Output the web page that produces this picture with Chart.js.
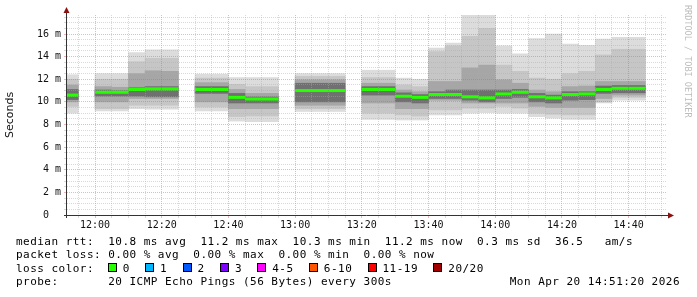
<!DOCTYPE html>
<html>
<head>
<meta charset="utf-8">
<script src="https://cdn.jsdelivr.net/npm/chart.js@4.4.0/dist/chart.umd.min.js"></script>
<style>
  body { margin: 0; background: #fff; }
  #wrap { position: relative; width: 697px; height: 297px; background: #fff; overflow: hidden; }
  #chart { position: absolute; left: 0; top: 0; }
  .line { position: absolute; left: 16px; font-family: 'DejaVu Sans Mono', monospace; font-size: 11px;
          letter-spacing: 0.47px; line-height: 13.33px; white-space: pre; color: #000; }
  .sq { display: inline-block; width: 7px; height: 7px; border: 1px solid #000; margin-right: 6px; vertical-align: baseline; }
  #credit { position: absolute; left: 683px; top: 5px; writing-mode: vertical-rl; font-family: 'DejaVu Sans Mono', monospace;
            font-size: 8.5px; color: #bdbdbd; white-space: pre; }
</style>
</head>
<body>
<div id="wrap">
  <canvas id="chart" width="697" height="297"></canvas>
  <div id="credit">RRDTOOL / TOBI OETIKER</div>
  <div class="line" style="top:234.5px">median rtt:  10.8 ms avg  11.2 ms max  10.3 ms min  11.2 ms now  0.3 ms sd  36.5   am/s</div>
  <div class="line" style="top:248px">packet loss: 0.00 % avg  0.00 % max  0.00 % min  0.00 % now</div>
  <div class="line" id="lossRow" style="top:261.5px">loss color:</div>
  <div class="line" style="top:275px">probe:       20 ICMP Echo Pings (56 Bytes) every 300s</div>
  <div class="line" style="top:275px; left:auto; right:17px">Mon Apr 20 14:51:20 2026</div>
</div>
<script>
// 5 minute slots (start time), null = no data
var slotStarts = ['11:50','11:55','12:00','12:05','12:10','12:15','12:20','12:25','12:30','12:35','12:40','12:45',
                  '12:50','12:55','13:00','13:05','13:10','13:15','13:20','13:25','13:30','13:35','13:40','13:45',
                  '13:50','13:55','14:00','14:05','14:10','14:15','14:20','14:25','14:30','14:35','14:40','14:45'];

// median rtt in ms
var median = [10.6, null, 10.85, 10.85, 11.1, 11.15, 11.15, null, 11.1, 11.1, 10.4, 10.25,
              10.25, null, 11.0, 11.0, 11.0, null, 11.1, 11.1, 10.5, 10.4, 10.65, 10.65,
              10.45, 10.35, 10.7, 10.85, 10.45, 10.35, 10.65, 10.7, 11.1, 11.2, 11.2, null];

// smoke bands (ping spread), outermost to innermost
var outerHi = [12.4, null, 12.5, 12.5, 14.35, 14.6, 14.6, null, 12.45, 12.45, 12.15, 12.15,
               12.15, null, 12.5, 12.5, 12.5, null, 12.8, 12.8, 12.1, 12.0, 14.75, 15.2,
               17.7, 17.7, 14.95, 14.25, 15.6, 16.0, 15.1, 15.0, 15.55, 15.7, 15.7, null];
var outerLo = [9.0, null, 9.2, 9.2, 9.4, 9.35, 9.35, null, 9.2, 9.2, 8.3, 8.25,
               8.25, null, 9.15, 9.15, 9.15, null, 8.45, 8.45, 8.4, 8.4, 8.85, 8.85,
               9.0, 9.05, 9.0, 9.0, 8.7, 8.55, 8.45, 8.45, 9.9, 10.15, 10.15, null];
var midHi = [12.0, null, 12.0, 12.0, 13.55, 13.85, 13.85, null, 12.1, 12.1, 11.55, 11.35,
             11.35, null, 12.25, 12.25, 12.25, null, 12.15, 12.15, 11.5, 11.35, 14.45, 14.95,
             15.8, 16.5, 13.25, 12.7, 12.1, 12.0, 12.5, 12.7, 14.15, 14.65, 14.65, null];
var midLo = [9.6, null, 9.4, 9.4, 9.7, 9.7, 9.7, null, 9.55, 9.55, 8.7, 8.75,
             8.75, null, 9.4, 9.4, 9.4, null, 9.0, 9.0, 8.85, 8.75, 9.3, 9.3,
             9.45, 9.45, 9.6, 9.45, 9.0, 8.9, 8.85, 8.85, 10.0, 10.4, 10.4, null];
var innerHi = [11.5, null, 11.35, 11.3, 12.5, 12.75, 12.7, null, 11.7, 11.7, 11.1, 10.75,
               10.75, null, 11.95, 11.95, 11.95, null, 11.65, 11.65, 11.05, 10.9, 11.8, 11.8,
               13.0, 13.25, 11.95, 11.65, 11.05, 10.9, 11.35, 11.4, 11.8, 11.8, 11.8, null];
var innerLo = [10.0, null, 10.0, 10.0, 10.3, 10.3, 10.3, null, 10.0, 10.0, 9.4, 9.4,
               9.4, null, 9.7, 9.7, 9.7, null, 9.9, 9.9, 9.4, 9.4, 10.15, 10.15,
               9.9, 9.9, 9.9, 9.9, 9.6, 9.5, 9.5, 9.5, 10.3, 10.6, 10.6, null];
var coreHi = [11.1, null, 11.05, 11.0, 11.25, 11.35, 11.35, null, 11.35, 11.35, 10.75, 10.45,
              10.45, null, 11.65, 11.65, 11.65, null, 11.35, 11.35, 10.8, 10.65, 10.9, 11.05,
              11.05, 11.05, 11.05, 11.1, 10.75, 10.6, 10.9, 10.9, 11.4, 11.45, 11.45, null];
var coreLo = [10.2, null, 10.5, 10.5, 10.5, 10.45, 10.45, null, 10.75, 10.75, 9.9, 9.9,
              9.9, null, 10.0, 10.0, 10.0, null, 10.6, 10.6, 10.0, 9.9, 10.3, 10.3,
              10.15, 10.0, 10.3, 10.4, 10.0, 9.9, 10.15, 10.2, 10.75, 10.8, 10.8, null];

var xTickLabels = ['12:00','12:20','12:40','13:00','13:20','13:40','14:00','14:20','14:40'];
var yTickLabels = ['0  ','2 m','4 m','6 m','8 m','10 m','12 m','14 m','16 m'];

var lossLabels = ['0','1','2','3','4-5','6-10','11-19','20/20'];
var lossColors = ['#26ff00','#00b8ff','#0059ff','#7e00ff','#ff00ff','#ff5500','#ff0000','#a00000'];

function toMin(s) { var p = s.split(':'); return +p[0] * 60 + +p[1]; }
var slotMid = slotStarts.map(function (s) { return toMin(s) + 2.5; });
var xTickMinutes = xTickLabels.map(toMin);

function band(lo, hi) {
    return slotMid.map(function (x, i) {
        return { x: x, y: lo[i] === null ? null : [lo[i], hi[i]] };
    });
}

function smoke(label, lo, hi, color, order) {
    return {
        type: 'bar',
        label: label,
        data: band(lo, hi),
        backgroundColor: color,
        borderWidth: 0,
        grouped: false,
        barPercentage: 1,
        categoryPercentage: 1,
        clip: 0,
        order: order
    };
}

// legend swatches
var row = document.getElementById('lossRow');
lossLabels.forEach(function (l, i) {
    var sq = document.createElement('span');
    sq.className = 'sq';
    sq.style.background = lossColors[i];
    sq.style.marginLeft = i === 0 ? '13.7px' : '15.3px';
    row.appendChild(sq);
    row.appendChild(document.createTextNode(l));
});

var axisArrows = {
    id: 'axisArrows',
    afterDraw: function (chart) {
        var ctx = chart.ctx, a = chart.chartArea;
        ctx.save();
        ctx.strokeStyle = '#333';
        ctx.lineWidth = 1;
        ctx.beginPath();
        ctx.moveTo(a.left - 3, a.bottom + 0.5);
        ctx.lineTo(a.right + 2, a.bottom + 0.5);
        ctx.moveTo(a.left - 0.5, a.bottom + 3);
        ctx.lineTo(a.left - 0.5, a.top - 3);
        ctx.stroke();
        ctx.fillStyle = '#8b1010';
        ctx.beginPath();
        ctx.moveTo(a.left - 0.5, a.top - 8);
        ctx.lineTo(a.left - 3.5, a.top - 2);
        ctx.lineTo(a.left + 2.5, a.top - 2);
        ctx.fill();
        ctx.beginPath();
        ctx.moveTo(a.right + 7, a.bottom + 0.5);
        ctx.lineTo(a.right + 1, a.bottom - 2.5);
        ctx.lineTo(a.right + 1, a.bottom + 3.5);
        ctx.fill();
        ctx.restore();
    }
};

var minorGrid = 'rgba(170,170,170,0.45)';
var majorGrid = 'rgba(225,90,90,0.45)';
var tickFont = { family: 'DejaVu Sans Mono', size: 10 };

var smokeChart = new Chart(document.getElementById('chart').getContext('2d'), {
    type: 'bar',
    data: {
        datasets: [
            {
                type: 'line',
                label: 'median rtt',
                data: slotMid.map(function (x, i) { return { x: x, y: median[i] }; }),
                showLine: false,
                pointStyle: 'line',
                pointRadius: function (c) {
                    var s = c.chart.scales.x;
                    return (s.getPixelForValue(5) - s.getPixelForValue(0)) / 2;
                },
                pointBorderWidth: 3,
                pointBorderColor: lossColors[0],
                pointBackgroundColor: lossColors[0],
                clip: 0,
                order: 0
            },
            smoke('core', coreLo, coreHi, '#707070', 1),
            smoke('inner', innerLo, innerHi, '#a6a6a6', 2),
            smoke('mid', midLo, midHi, '#c6c6c6', 3),
            smoke('outer', outerLo, outerHi, '#dcdcdc', 4)
        ]
    },
    options: {
        responsive: false,
        animation: false,
        events: [],
        layout: { padding: { top: 15, right: 30, left: 0, bottom: 0 } },
        plugins: { legend: { display: false }, tooltip: { enabled: false } },
        scales: {
            x: {
                type: 'linear',
                offset: false,
                min: 711.6,
                max: 891.5,
                afterFit: function (s) { s.height = 82; },
                border: { display: false, dash: [1, 1] },
                grid: {
                    z: 1,
                    offset: false,
                    color: function (c) { return c.tick && c.tick.value % 20 === 0 ? majorGrid : minorGrid; },
                    tickLength: 3,
                    tickBorderDash: []
                },
                ticks: {
                    stepSize: 5,
                    autoSkip: false,
                    maxRotation: 0,
                    includeBounds: false,
                    padding: 1,
                    color: '#111',
                    font: tickFont,
                    callback: function (v) {
                        var i = xTickMinutes.indexOf(v);
                        return i >= 0 ? xTickLabels[i] : '';
                    }
                }
            },
            y: {
                min: 0,
                max: 17.68,
                afterFit: function (s) { s.width = 67; },
                border: { display: false, dash: [1, 1] },
                grid: {
                    z: 1,
                    color: function (c) { return c.tick && c.tick.value % 2 === 0 ? majorGrid : minorGrid; },
                    tickLength: 3,
                    tickBorderDash: []
                },
                title: {
                    display: true,
                    text: 'Seconds',
                    color: '#111',
                    font: { family: 'DejaVu Sans', size: 11 },
                    padding: { top: 4, bottom: 0 }
                },
                ticks: {
                    stepSize: 0.5,
                    autoSkip: false,
                    includeBounds: false,
                    padding: 3,
                    color: '#111',
                    font: tickFont,
                    callback: function (v) {
                        return v % 2 === 0 ? yTickLabels[v / 2] : '';
                    }
                }
            }
        }
    },
    plugins: [axisArrows]
});
</script>
</body>
</html>
